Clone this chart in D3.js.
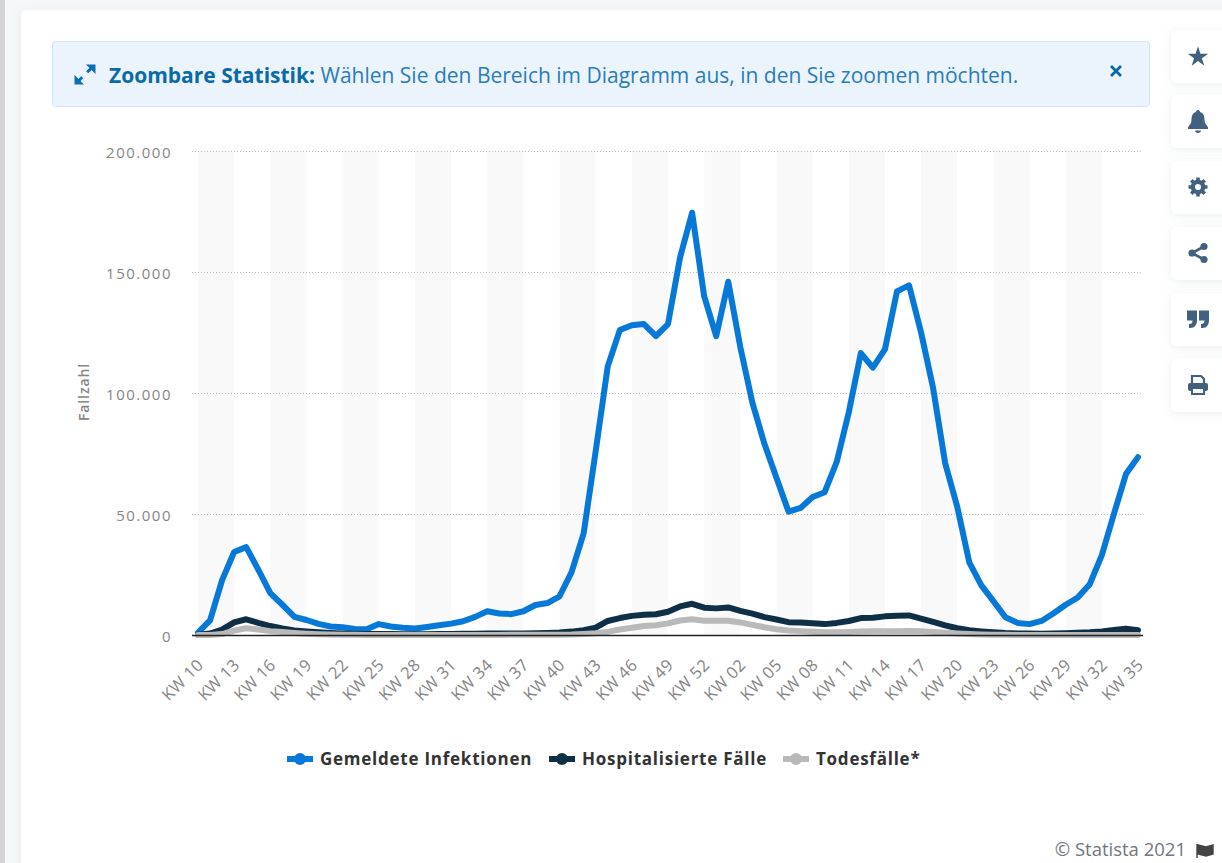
<!DOCTYPE html>
<html lang="de">
<head>
<meta charset="utf-8">
<title>Zoombare Statistik</title>
<script src="https://cdn.jsdelivr.net/npm/d3@7"></script>
<style>
  html, body { margin: 0; padding: 0; background: #f6f7f8; overflow: hidden; }
  text { font-family: "Open Sans", sans-serif; }
  .axis path, .axis line { display: none; }
</style>
</head>
<body>
<svg id="chart" width="1222" height="863"></svg>
<script>
const weeks = [
  "KW 10","KW 11","KW 12","KW 13","KW 14","KW 15","KW 16","KW 17","KW 18","KW 19",
  "KW 20","KW 21","KW 22","KW 23","KW 24","KW 25","KW 26","KW 27","KW 28","KW 29",
  "KW 30","KW 31","KW 32","KW 33","KW 34","KW 35","KW 36","KW 37","KW 38","KW 39",
  "KW 40","KW 41","KW 42","KW 43","KW 44","KW 45","KW 46","KW 47","KW 48","KW 49",
  "KW 50","KW 51","KW 52","KW 53","KW 01","KW 02","KW 03","KW 04","KW 05","KW 06",
  "KW 07","KW 08","KW 09","KW 10","KW 11","KW 12","KW 13","KW 14","KW 15","KW 16",
  "KW 17","KW 18","KW 19","KW 20","KW 21","KW 22","KW 23","KW 24","KW 25","KW 26",
  "KW 27","KW 28","KW 29","KW 30","KW 31","KW 32","KW 33","KW 34","KW 35"
];
const infektionen = [
  1000,6000,22700,34300,36300,27000,17300,12500,7500,6200,
  4600,3500,3200,2500,2400,4500,3500,3000,2700,3300,
  4000,4700,5700,7500,9800,8900,8600,9800,12400,13200,
  16000,26000,42000,76000,111000,126000,128000,128500,123500,128500,
  156000,174500,140000,123500,146000,119000,96000,79000,65000,51000,
  52500,57000,59000,71500,92000,116500,110500,118000,142000,144500,
  125000,102000,71000,53000,30000,20500,14000,7300,5000,4500,
  5800,9000,12500,15500,21000,33000,50000,66500,73500
];
const hospitalisiert = [
  100,600,2200,5200,6500,5000,3700,2700,1900,1500,
  1100,800,600,500,400,400,400,350,300,350,
  400,450,500,550,600,600,600,650,700,800,
  1000,1400,2000,3000,5800,7000,7900,8400,8600,9600,
  11800,12900,11300,11000,11400,10000,8800,7400,6400,5300,
  5200,4900,4500,5000,5800,7000,7100,7700,8000,8100,
  6800,5400,4000,2800,2000,1500,1100,800,650,600,
  550,600,700,900,1100,1500,2100,2600,2000
];
const todesfaelle = [
  0,20,400,1800,2800,2300,1600,1200,800,500,
  300,200,100,60,40,30,30,30,30,30,
  30,30,30,40,50,50,60,70,80,100,
  120,200,400,700,1300,2300,3000,3700,4000,4800,
  6000,6500,5900,5900,5900,5200,4200,3200,2400,1900,
  1600,1300,1100,1100,1200,1400,1500,1500,1600,1700,
  1500,1200,900,600,400,200,100,70,50,40,
  30,30,30,30,30,30,30,40,40
];
const seriesNames = ["Gemeldete Infektionen", "Hospitalisierte Fälle", "Todesfälle*"];
const seriesColors = ["#0679d8", "#0f2f47", "#b9b9b9"];
const yTicks = [0, 50000, 100000, 150000, 200000];

const svg = d3.select("#chart");

// drop shadow for card and buttons
const shadow = svg.append("defs").append("filter")
  .attr("id", "soft").attr("x", "-30%").attr("y", "-30%").attr("width", "160%").attr("height", "160%");
shadow.append("feDropShadow")
  .attr("dx", 0).attr("dy", 2).attr("stdDeviation", 5)
  .attr("flood-color", "#8a96a3").attr("flood-opacity", 0.16);

// page frame
svg.append("rect").attr("x", 0).attr("y", 0).attr("width", 5).attr("height", 863).attr("fill", "#d4d4d4");
svg.append("rect").attr("x", 21).attr("y", 10).attr("width", 1240).attr("height", 900).attr("rx", 6)
  .attr("fill", "#fff").attr("filter", "url(#soft)");

// zoom banner
svg.append("rect").attr("x", 52.5).attr("y", 41.5).attr("width", 1097).attr("height", 65).attr("rx", 3)
  .attr("fill", "#ebf4fc").attr("stroke", "#d0e6f8");
const arrows = svg.append("g").attr("transform", "translate(85,74.5)")
  .attr("stroke", "#0a6fb5").attr("fill", "#0a6fb5");
arrows.append("path").attr("d", "M-7,7L7,-7").attr("stroke-width", 3).attr("stroke-dasharray", "6 7");
arrows.append("path").attr("d", "M-10.5,0.5L-10.5,10L-1,10Z").attr("stroke", "none");
arrows.append("path").attr("d", "M10.5,-0.5L10.5,-10L1,-10Z").attr("stroke", "none");
const banner = svg.append("text").attr("x", 109).attr("y", 82.5)
  .attr("font-size", 21).attr("fill", "#2a7cb8");
banner.append("tspan").attr("font-weight", 700).attr("fill", "#0a6aa8").text("Zoombare Statistik:");
banner.append("tspan").text(" Wählen Sie den Bereich im Diagramm aus, in den Sie zoomen möchten.");
svg.append("path").attr("d", "M1111,66L1121,76M1121,66L1111,76")
  .attr("stroke", "#0a6aa8").attr("stroke-width", 2.8).attr("fill", "none");

// side buttons
const iconColor = "#41617f";
const icons = [
  g => g.append("path").attr("d", d3.symbol(d3.symbolStar, 130)()).attr("fill", iconColor).attr("transform", "translate(0,1)"),
  g => g.append("path").attr("fill", iconColor)
    .attr("d", "M0,-11C1.5,-11 2,-10 2,-9C6,-8 6.5,-4 6.5,-1C6.5,3 9,4 10,6.5L10,8L-10,8L-10,6.5C-9,4 -6.5,3 -6.5,-1C-6.5,-4 -6,-8 -2,-9C-2,-10 -1.5,-11 0,-11ZM-3,9.5L3,9.5C3,11 1.5,12 0,12C-1.5,12 -3,11 -3,9.5Z"),
  g => {
    g.append("circle").attr("r", 5.2).attr("fill", "none").attr("stroke", iconColor).attr("stroke-width", 4.2);
    g.append("g").selectAll("rect").data(d3.range(8)).join("rect")
      .attr("x", -1.8).attr("y", -9.5).attr("width", 3.6).attr("height", 4).attr("fill", iconColor)
      .attr("transform", d => `rotate(${d * 45})`);
  },
  g => {
    g.append("path").attr("d", "M6,-6.5L-6,0L6,6.5").attr("fill", "none").attr("stroke", iconColor).attr("stroke-width", 2.6);
    g.selectAll("circle").data([[6, -6.5], [-6, 0], [6, 6.5]]).join("circle")
      .attr("cx", d => d[0]).attr("cy", d => d[1]).attr("r", 3.6).attr("fill", iconColor);
  },
  g => g.append("path").attr("fill", iconColor)
    .attr("d", "M-11,-8.5L-1,-8.5L-1,1C-1,5.5 -3,9 -8,9L-9,9L-9,5C-6.5,5 -5.5,4 -5.5,1.5L-11,1.5ZM1,-8.5L11,-8.5L11,1C11,5.5 9,9 4,9L3,9L3,5C5.5,5 6.5,4 6.5,1.5L1,1.5Z"),
  g => {
    g.append("path").attr("fill", "none").attr("stroke", iconColor).attr("stroke-width", 2.2)
      .attr("d", "M-6,-2L-6,-9L3,-9L6,-6L6,-2M-6,6L6,6L6,2");
    g.append("rect").attr("x", -10).attr("y", -2).attr("width", 20).attr("height", 8).attr("rx", 2).attr("fill", iconColor);
    g.append("rect").attr("x", -6).attr("y", 3).attr("width", 12).attr("height", 6).attr("fill", "#fff")
      .attr("stroke", iconColor).attr("stroke-width", 2);
  }
];
const buttonTops = [30, 95, 161, 227, 293, 359];
buttonTops.forEach((top, i) => {
  svg.append("rect").attr("x", 1171).attr("y", top).attr("width", 70).attr("height", 53).attr("rx", 6)
    .attr("fill", "#fff").attr("filter", "url(#soft)");
  icons[i](svg.append("g").attr("transform", `translate(1198,${top + 26})`));
});

// scales
const x = d3.scaleLinear().domain([0, weeks.length - 1]).range([198, 1138]);
const y = d3.scaleLinear().domain([0, 200000]).range([635, 151]);
const de = d3.formatLocale({ decimal: ",", thousands: ".", grouping: [3], currency: ["", " €"] });

// alternating bands, three weeks wide
svg.append("g").selectAll("rect")
  .data(d3.range(0, weeks.length - 3, 6))
  .join("rect")
  .attr("x", d => x(d))
  .attr("y", y(200000))
  .attr("width", d => x(d + 3) - x(d))
  .attr("height", y(0) - y(200000))
  .attr("fill", "#f9f9f9");

// grid
svg.append("g").selectAll("line")
  .data(yTicks.slice(1))
  .join("line")
  .attr("x1", 192).attr("x2", 1143)
  .attr("y1", d => y(d) + 0.5).attr("y2", d => y(d) + 0.5)
  .attr("stroke", "#bdbdbd")
  .attr("stroke-dasharray", "1 2");

// axes
const yAxis = svg.append("g").attr("class", "axis")
  .attr("transform", "translate(175,0)")
  .call(d3.axisLeft(y).tickValues(yTicks).tickFormat(de.format(",d")).tickSize(0));
yAxis.selectAll("text")
  .attr("font-size", 15).attr("fill", "#858585").attr("letter-spacing", "1.5").attr("dy", "0.4em");

const xAxis = svg.append("g").attr("class", "axis")
  .attr("transform", "translate(0,635)")
  .call(d3.axisBottom(x).tickValues(d3.range(0, weeks.length, 3)).tickFormat(i => weeks[i]).tickSize(0));
xAxis.selectAll("text")
  .attr("font-size", 16.5).attr("fill", "#858585")
  .attr("text-anchor", "end")
  .attr("letter-spacing", "0.4")
  .attr("dy", 0)
  .attr("y", 0)
  .attr("transform", "translate(6,31) rotate(-45)");

svg.append("text")
  .attr("transform", "translate(89,392) rotate(-90)")
  .attr("text-anchor", "middle")
  .attr("font-size", 14).attr("font-weight", 600).attr("fill", "#858585")
  .attr("letter-spacing", "0.9")
  .text("Fallzahl");

// lines
const line = d3.line().x((d, i) => x(i)).y(d => y(d));
[infektionen, hospitalisiert, todesfaelle].forEach((values, s) => {
  svg.append("path")
    .datum(values)
    .attr("fill", "none")
    .attr("stroke", seriesColors[s])
    .attr("stroke-width", 6)
    .attr("stroke-linejoin", "round")
    .attr("stroke-linecap", "round")
    .attr("d", line);
});

// baseline goes on top of the lines
svg.append("line").attr("x1", 192).attr("x2", 1143).attr("y1", 635.5).attr("y2", 635.5)
  .attr("stroke", "#222").attr("stroke-width", 1.6);

// legend
const legendX = [287, 549, 783];
const legend = svg.append("g").selectAll("g")
  .data(seriesNames)
  .join("g")
  .attr("transform", (d, i) => `translate(${legendX[i]},759)`);
legend.append("line").attr("x1", 0).attr("x2", 26).attr("stroke", (d, i) => seriesColors[i]).attr("stroke-width", 6);
legend.append("circle").attr("cx", 13).attr("r", 6).attr("fill", (d, i) => seriesColors[i]);
legend.append("text").attr("x", 33).attr("y", 6)
  .attr("font-size", 17).attr("font-weight", 700).attr("fill", "#333")
  .attr("letter-spacing", "0.75")
  .text(d => d);

// credit
svg.append("text").attr("x", 1186).attr("y", 856).attr("text-anchor", "end")
  .attr("font-size", 18.5).attr("fill", "#6f7780").text("© Statista 2021");
svg.append("path").attr("d", "M1197,844L1197,858M1198,845L1206,847L1213,845L1213,854L1206,856L1198,854Z")
  .attr("stroke", "#444").attr("stroke-width", 1.4).attr("fill", "#444");
</script>
</body>
</html>
